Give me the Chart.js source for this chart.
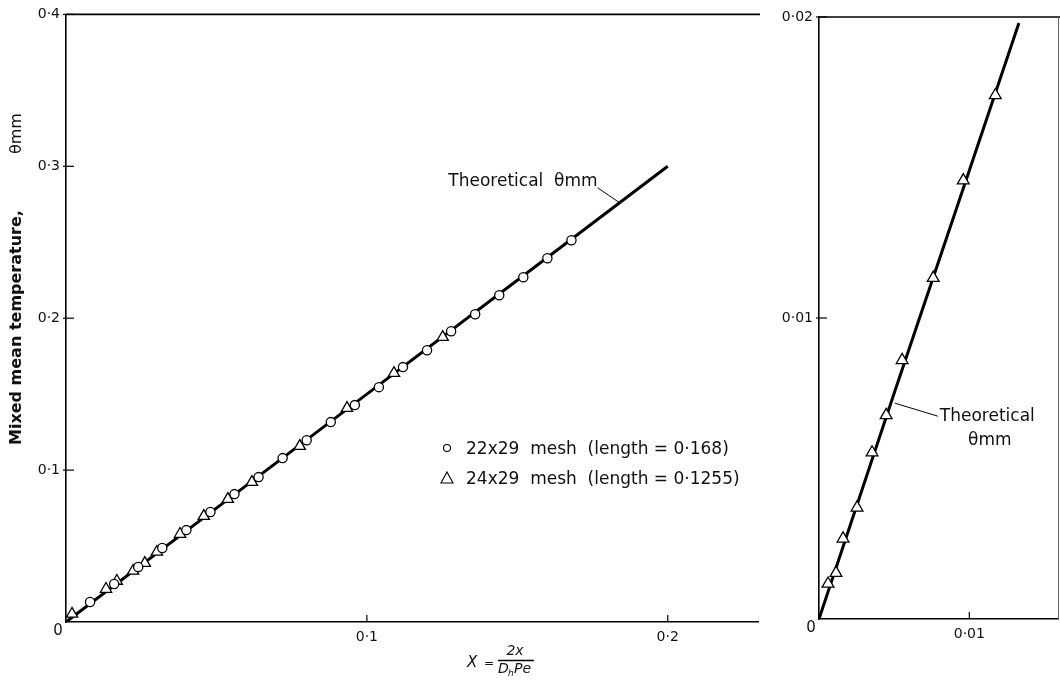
<!DOCTYPE html>
<html><head><meta charset="utf-8">
<script src="https://cdn.jsdelivr.net/npm/chart.js@4.4.0/dist/chart.umd.min.js"></script>
<style>
html,body{margin:0;padding:0;background:#fff;width:1060px;height:688px;overflow:hidden}
#c1{position:absolute;left:0;top:0}
#c2{position:absolute;left:770px;top:0}
</style></head><body>
<canvas id="c1" width="770" height="688"></canvas>
<canvas id="c2" width="290" height="688"></canvas>
<script>
// ---- data ----
// 22x29 mesh (length = 0.168), circles, main panel
const meshAX = [0.008,0.016,0.024,0.032,0.040,0.048,0.056,0.064,0.072,0.080,0.088,0.096,0.104,0.112,0.120,0.128,0.136,0.144,0.152,0.160,0.168];
const meshAY = [0.0132,0.0250,0.0362,0.0487,0.0605,0.0724,0.0842,0.0954,0.1079,0.1197,0.1316,0.1428,0.1546,0.1678,0.1789,0.1914,0.2026,0.2151,0.2270,0.2395,0.2513];
// 24x29 mesh (length = 0.1255), triangles, main panel
const meshBX = [0.0020,0.0133,0.0169,0.0223,0.0262,0.0302,0.0379,0.0458,0.0538,0.0618,0.0777,0.0934,0.1090,0.1252];
const meshBY = [0.0053,0.0217,0.0270,0.0336,0.0388,0.0461,0.0579,0.0697,0.0809,0.0921,0.1158,0.1408,0.1638,0.1875];
// theoretical mixed mean temperature, main panel
const theoX = [0, 0.05, 0.10, 0.15, 0.20];
const theoY = [0, 0.075, 0.150, 0.225, 0.300];
// enlarged panel (24x29 mesh near the origin)
const zoomBX = [0.0006,0.00113,0.0016,0.00253,0.00353,0.00447,0.00553,0.0076,0.0096,0.01173];
const zoomBY = [0.00117,0.00153,0.00267,0.0037,0.00553,0.00677,0.0086,0.01133,0.01457,0.0174];
const zoomTheoX = [0, 0.005, 0.010, 0.0133];
const zoomTheoY = [0, 0.0075, 0.0149, 0.0198];
// tick labels
const mainXTicks = [0, 0.1, 0.2];
const mainYTicks = [0, 0.1, 0.2, 0.3, 0.4];
const zoomXTicks = [0, 0.01];
const zoomYTicks = [0, 0.01, 0.02];

const pts = (xs, ys) => xs.map((x, i) => ({x, y: ys[i]}));
const fmt = v => v === 0 ? '' : String(v).replace('.', '\u00b7');
const INK = '#111';
const TICKFONT = {family: 'DejaVu Sans', size: 14};

function axisCfg(ticksArr, min, max, fit, isX) {
  return {
    type: 'linear', min, max,
    afterBuildTicks: s => { s.ticks = ticksArr.map(v => ({value: v})); },
    afterFit: s => { if (isX) s.height = fit; else s.width = fit; },
    ticks: {callback: fmt, color: INK, font: TICKFONT, padding: isX ? 7 : 6, autoSkip: false, maxRotation: 0},
    grid: {drawOnChartArea: false, drawTicks: false},
    border: {display: true, color: '#000', width: 1.6}
  };
}

function frame(ctx, ch, drawRight) {
  const a = ch.chartArea, xs = ch.scales.x, ys = ch.scales.y;
  ctx.save();
  ctx.strokeStyle = '#000'; ctx.lineWidth = 1.6;
  ctx.beginPath(); ctx.moveTo(a.left, a.top); ctx.lineTo(a.right + 2, a.top); ctx.stroke();
  if (drawRight) { ctx.strokeStyle = '#666'; ctx.lineWidth = 1; ctx.beginPath(); ctx.moveTo(a.right + 0.5, a.top); ctx.lineTo(a.right + 0.5, a.bottom); ctx.stroke(); ctx.strokeStyle = '#000'; }
  ctx.lineWidth = 1.2;
  xs.ticks.forEach(t => { if (t.value === 0) return; const p = xs.getPixelForValue(t.value);
    ctx.beginPath(); ctx.moveTo(p, a.bottom); ctx.lineTo(p, a.bottom - 7); ctx.stroke(); });
  ys.ticks.forEach(t => { if (t.value === 0) return; const p = ys.getPixelForValue(t.value);
    ctx.beginPath(); ctx.moveTo(a.left - 3, p); ctx.lineTo(a.left + 8, p); ctx.stroke(); });
  ctx.fillStyle = INK; ctx.font = '15px DejaVu Sans'; ctx.textAlign = 'center'; ctx.textBaseline = 'middle';
  ctx.fillText('0', a.left - 8, a.bottom + 9);
  ctx.restore();
}

const mainDeco = {
  id: 'mainDeco',
  afterDraw(ch) {
    const ctx = ch.ctx, a = ch.chartArea, xs = ch.scales.x, ys = ch.scales.y;
    frame(ctx, ch, false);
    ctx.save();
    ctx.fillStyle = INK; ctx.strokeStyle = '#000';
    // y axis title
    ctx.save();
    ctx.translate(17, 445); ctx.rotate(-Math.PI / 2);
    ctx.textAlign = 'left'; ctx.textBaseline = 'middle';
    ctx.font = 'bold 16px DejaVu Sans';
    ctx.fillText('Mixed mean temperature,', 0, 0);
    ctx.font = '16px DejaVu Sans';
    ctx.fillText('\u03b8mm', 291, 0);
    ctx.restore();
    // x axis title  X = 2x / (D_h Pe)
    ctx.textBaseline = 'middle'; ctx.textAlign = 'left';
    ctx.font = 'italic 15px DejaVu Sans';
    ctx.fillText('X', 467, 663);
    ctx.font = '12px DejaVu Sans';
    ctx.fillText('=', 484, 664);
    ctx.font = 'italic 14px DejaVu Sans';
    ctx.textAlign = 'center';
    ctx.fillText('2x', 515, 651);
    ctx.lineWidth = 1.3; ctx.beginPath(); ctx.moveTo(498, 660.5); ctx.lineTo(534, 660.5); ctx.stroke();
    ctx.textAlign = 'left';
    ctx.fillText('D', 498, 669);
    ctx.font = 'italic 9px DejaVu Sans';
    ctx.fillText('h', 508, 674);
    ctx.font = 'italic 14px DejaVu Sans';
    ctx.fillText('Pe', 514, 669);
    // annotation on the theoretical line
    const tx = xs.getPixelForValue(0.184), ty = ys.getPixelForValue(0.276);
    ctx.lineWidth = 1; ctx.beginPath(); ctx.moveTo(tx, ty); ctx.lineTo(tx - 22, ty - 15); ctx.stroke();
    ctx.font = '17px DejaVu Sans'; ctx.textAlign = 'right'; ctx.textBaseline = 'middle';
    ctx.fillText('Theoretical  \u03b8mm', tx - 22, ty - 21);
    // legend
    ctx.textAlign = 'left'; ctx.font = '17px DejaVu Sans';
    ctx.lineWidth = 1.1;
    ctx.beginPath(); ctx.arc(447, 448, 3.5, 0, Math.PI * 2); ctx.stroke();
    ctx.fillText('22x29  mesh  (length = 0\u00b7168)', 466, 450);
    ctx.beginPath(); ctx.moveTo(447, 472); ctx.lineTo(453, 483); ctx.lineTo(441, 483); ctx.closePath(); ctx.stroke();
    ctx.fillText('24x29  mesh  (length = 0\u00b71255)', 466, 480);
    ctx.restore();
  }
};

const zoomDeco = {
  id: 'zoomDeco',
  afterDraw(ch) {
    const ctx = ch.ctx, xs = ch.scales.x, ys = ch.scales.y;
    frame(ctx, ch, true);
    ctx.save();
    ctx.fillStyle = INK; ctx.strokeStyle = '#000'; ctx.lineWidth = 1;
    const px = xs.getPixelForValue(0.00478), py = ys.getPixelForValue(0.00717);
    ctx.beginPath(); ctx.moveTo(px + 4, py); ctx.lineTo(px + 47, py + 13); ctx.stroke();
    ctx.font = '17px DejaVu Sans'; ctx.textBaseline = 'middle'; ctx.textAlign = 'left';
    ctx.fillText('Theoretical', px + 49, py + 13);
    ctx.textAlign = 'center';
    ctx.fillText('\u03b8mm', px + 99, py + 37);
    ctx.restore();
  }
};

const circleDs = (d) => ({data: d, showLine: false, pointStyle: 'circle', pointRadius: 4.6,
  pointBackgroundColor: '#fff', pointBorderColor: '#000', pointBorderWidth: 1.3, order: 1});
const triDs = (d, r) => ({data: d, showLine: false, pointStyle: 'triangle', pointRadius: r,
  pointBackgroundColor: '#fff', pointBorderColor: '#000', pointBorderWidth: 1.3, order: 2});
const lineDs = (d) => ({data: d, showLine: true, borderColor: '#000', borderWidth: 3, pointRadius: 0,
  fill: false, tension: 0, order: 3});

const common = {
  responsive: false, animation: false, devicePixelRatio: 1,
  plugins: {legend: {display: false}, tooltip: {enabled: false}},
  events: []
};

new Chart(document.getElementById('c1'), {
  type: 'scatter',
  data: {datasets: [circleDs(pts(meshAX, meshAY)), triDs(pts(meshBX, meshBY), 6.5), lineDs(pts(theoX, theoY))]},
  options: Object.assign({}, common, {
    layout: {padding: {top: 14, right: 12, bottom: 0, left: 0}, autoPadding: false},
    scales: {x: axisCfg(mainXTicks, 0, 0.23, 66, true), y: axisCfg(mainYTicks, 0, 0.4, 66, false)}
  }),
  plugins: [mainDeco]
});

new Chart(document.getElementById('c2'), {
  type: 'scatter',
  data: {datasets: [triDs(pts(zoomBX, zoomBY), 6.8), lineDs(pts(zoomTheoX, zoomTheoY))]},
  options: Object.assign({}, common, {
    layout: {padding: {top: 17, right: 2, bottom: 0, left: 0}, autoPadding: false},
    scales: {x: axisCfg(zoomXTicks, 0, 0.0159, 69, true), y: axisCfg(zoomYTicks, 0, 0.02, 49, false)}
  }),
  plugins: [zoomDeco]
});
</script>
</body></html>
